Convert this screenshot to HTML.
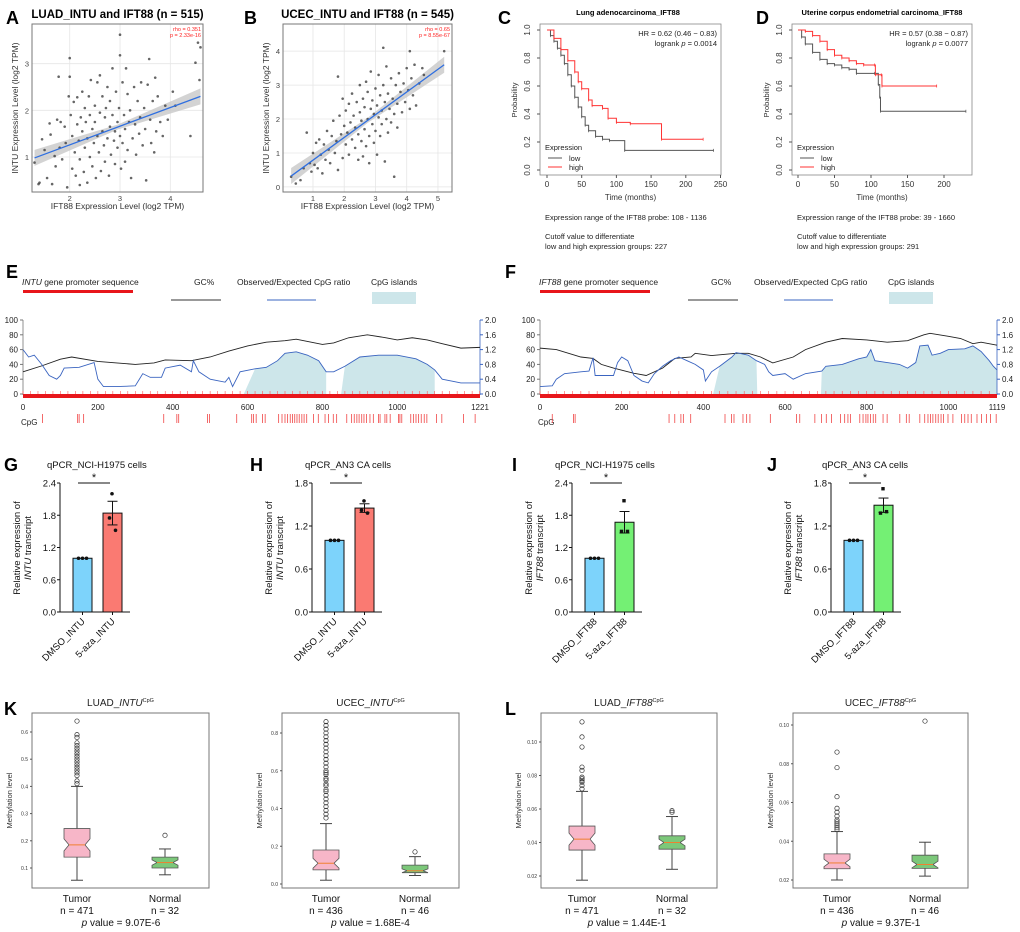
<!DOCTYPE html>
<html><head><meta charset="utf-8"><title>INTU / IFT88 figure</title>
<style>
html,body{margin:0;padding:0;background:#fff;}
svg{display:block;font-family:"Liberation Sans",sans-serif;}
.lbl{font-weight:bold;font-size:18px;fill:#000;}
</style></head>
<body>
<svg id="fig" width="1020" height="932" viewBox="0 0 1020 932" xmlns="http://www.w3.org/2000/svg">
<text class="lbl" x="6" y="24">A</text>
<text class="lbl" x="244" y="24">B</text>
<text class="lbl" x="498" y="24">C</text>
<text class="lbl" x="756" y="24">D</text>
<text class="lbl" x="6" y="278">E</text>
<text class="lbl" x="505" y="278">F</text>
<text class="lbl" x="4" y="471">G</text>
<text class="lbl" x="250" y="471">H</text>
<text class="lbl" x="512" y="471">I</text>
<text class="lbl" x="767" y="471">J</text>
<text class="lbl" x="4" y="715">K</text>
<text class="lbl" x="505" y="715">L</text>
<g id="root"></g>
</svg>
<script>
// ---------- DATA ----------
const scatterAx = [1.3,1.4,1.38,1.45,1.5,1.55,1.6,1.62,1.65,1.7,1.72,1.75,1.78,1.8,1.82,1.85,1.9,1.92,1.95,1.98,2.0,2.0,2.02,2.05,2.05,2.08,2.1,2.12,2.15,2.15,2.18,2.2,2.2,2.22,2.25,2.25,2.28,2.3,2.3,2.32,2.35,2.35,2.38,2.4,2.4,2.42,2.45,2.45,2.48,2.5,2.5,2.52,2.55,2.55,2.58,2.6,2.6,2.62,2.65,2.65,2.68,2.7,2.7,2.72,2.75,2.75,2.78,2.8,2.8,2.82,2.85,2.85,2.88,2.9,2.9,2.92,2.95,2.95,2.98,3.0,3.0,3.0,3.02,3.05,3.05,3.08,3.1,3.1,3.12,3.15,3.15,3.18,3.2,3.22,3.25,3.28,3.3,3.32,3.35,3.38,3.4,3.42,3.45,3.48,3.5,3.52,3.55,3.58,3.6,3.62,3.65,3.68,3.7,3.72,3.75,3.8,3.85,3.9,3.95,4.05,4.1,4.4,4.5,4.55,4.58,4.6];
const scatterAy = [.88,.45,.42,1.38,1.15,.55,1.72,1.48,.42,1.02,.8,1.8,2.72,1.2,1.75,.95,1.65,1.3,.35,2.3,3.12,2.72,1.9,.75,1.45,2.18,1.1,.6,1.7,2.28,1.35,.4,.95,1.85,2.4,1.55,.68,1.2,2.05,1.75,.45,1.4,2.3,1.0,1.9,2.65,1.6,.8,1.3,2.1,1.75,.55,1.45,2.6,1.1,1.95,2.75,.7,1.55,2.3,1.25,1.85,.9,2.05,1.4,2.5,.6,1.65,2.2,1.05,1.9,2.9,1.35,.85,1.55,2.4,1.2,1.75,2.05,3.62,3.18,1.45,.75,2.6,1.3,1.9,.9,1.6,2.9,2.35,1.15,1.75,2.0,.55,1.4,2.5,1.7,1.05,2.2,1.5,1.85,2.6,1.25,2.05,1.6,.5,2.55,3.1,1.8,1.3,2.2,1.1,2.7,1.55,2.3,1.75,1.45,2.1,1.8,2.4,2.1,1.45,3.02,3.45,2.65,3.35];
const fitA = [[1.3,0.98],[4.6,2.3]];
const scatterBx = [.3,.45,.6,.7,.8,.9,.95,1.0,1.05,1.1,1.15,1.2,1.25,1.3,1.35,1.4,1.45,1.5,1.55,1.6,1.65,1.7,1.75,1.8,1.8,1.85,1.9,1.95,1.95,2.0,2.05,2.05,2.1,2.15,2.15,2.2,2.25,2.25,2.3,2.35,2.35,2.4,2.45,2.45,2.5,2.5,2.55,2.55,2.6,2.6,2.65,2.65,2.7,2.7,2.75,2.75,2.8,2.8,2.85,2.85,2.9,2.9,2.95,2.95,3.0,3.0,3.05,3.05,3.1,3.1,3.15,3.15,3.2,3.2,3.25,3.25,3.3,3.3,3.35,3.35,3.4,3.4,3.45,3.5,3.5,3.55,3.6,3.6,3.65,3.7,3.7,3.75,3.8,3.85,3.9,3.95,4.0,4.05,4.1,4.1,4.15,4.2,4.25,4.3,4.4,4.5,4.55,5.2];
const scatterBy = [.3,.1,.2,.55,1.6,.7,.45,1.0,.65,1.3,.55,1.4,.95,.4,1.25,.8,1.65,1.1,.7,1.5,1.95,1.0,1.35,3.25,.5,2.1,1.55,2.6,.85,1.8,1.25,2.25,1.6,.95,2.45,1.9,1.4,2.75,2.1,1.15,1.75,2.5,.8,1.55,2.2,3.0,1.35,1.95,2.6,.9,1.7,2.35,3.1,1.2,2.0,2.8,1.5,.7,2.3,3.4,1.85,2.55,1.3,2.15,2.9,1.65,2.4,.95,2.05,3.3,1.5,2.7,2.25,1.85,4.1,3.0,2.5,.75,2.0,3.55,2.75,1.6,2.3,3.2,1.9,2.6,.3,2.15,3.0,2.45,1.75,3.35,2.8,2.2,3.05,2.5,3.5,2.85,4.0,2.3,3.2,2.7,3.6,2.4,3.05,3.5,3.3,4.0];
const fitB = [[0.3,0.32],[5.2,3.6]];

const kmCLowT = [0,5,10,15,20,25,30,35,40,45,50,55,60,70,80,90,112,240];
const kmCLowS = [1,.96,.92,.87,.82,.76,.68,.6,.52,.45,.38,.32,.28,.24,.22,.21,.14,.14];
const kmCHighT = [0,10,20,30,40,45,50,60,65,80,88,100,120,165,225];
const kmCHighS = [1,.94,.86,.78,.7,.63,.58,.5,.46,.44,.37,.34,.33,.22,.22];
const kmDLowT = [0,5,10,20,30,40,50,60,70,80,105,110,112,113,230];
const kmDLowS = [1,.95,.9,.84,.79,.76,.75,.73,.72,.69,.69,.61,.52,.42,.42];
const kmDHighT = [0,10,20,30,40,50,60,70,80,90,105,106,114,115,190];
const kmDHighS = [1,.99,.96,.92,.86,.82,.8,.78,.76,.75,.75,.68,.68,.6,.6];

const eGcPos = [0,50,100,130,200,250,300,350,380,450,500,550,600,650,700,730,760,800,830,870,920,970,1000,1040,1080,1120,1170,1221];
const eGcVal = [30,38,47,50,44,42,40,42,46,45,50,58,65,70,72,74,71,67,69,76,80,76,73,76,73,68,62,63];
const eRatioPos = [0,15,30,50,70,90,100,110,150,190,200,215,250,300,320,340,370,380,420,450,455,470,500,540,550,560,580,620,650,680,700,730,760,790,810,830,860,900,950,1000,1050,1080,1100,1120,1170,1221];
const eRatioVal = [1.2,1.0,1.05,.8,.5,.4,.5,.7,.72,.85,.4,.2,.2,.22,.55,.45,.45,.7,.78,.6,.9,.6,.4,.32,.45,.2,.6,.68,.72,.9,1.1,1.14,1.05,.9,.6,.6,.75,1.0,1.05,1.05,.95,.8,.65,.4,.3,.3];
const eIslands = [[590,810],[850,1100]];
const eCpG = [52,146,150,162,376,411,416,493,498,571,611,616,623,640,647,683,692,700,707,714,720,726,732,738,745,751,758,776,789,807,816,829,838,865,878,885,892,898,905,911,918,927,936,950,954,967,972,981,1003,1007,1012,1036,1043,1050,1057,1064,1072,1079,1105,1119,1177,1208];

const fGcPos = [0,40,100,130,150,180,230,260,300,330,370,380,420,480,510,540,570,620,650,700,740,800,850,900,940,955,1000,1030,1060,1080,1119];
const fGcVal = [62,60,50,48,40,35,28,25,35,48,50,55,52,55,55,50,42,50,60,70,75,73,70,72,80,82,78,75,68,70,66];
const fRatioPos = [0,30,40,60,100,120,130,135,180,190,200,215,230,250,265,280,300,320,340,360,380,400,405,420,440,470,480,510,530,550,560,570,600,620,650,690,700,740,780,800,810,820,850,880,900,920,930,950,960,980,1000,1040,1060,1080,1100,1110,1119];
const fRatioVal = [.2,.22,.4,.55,.6,.62,.98,.5,.5,.85,1.0,.9,.5,.35,.3,.55,.75,.9,1.0,.9,.8,.65,.35,.6,.75,1.0,1.12,1.05,.9,.8,.6,.5,.55,.4,.55,.62,.75,.8,.95,1.0,1.2,.9,.85,.8,.7,.85,1.3,1.32,1.05,1.1,1.2,1.22,1.3,1.15,.9,.75,.65];
const fIslands = [[424,532],[688,1119]];
const fCpG = [30,82,86,316,330,345,351,369,453,469,475,497,506,514,564,628,636,673,689,701,714,736,746,754,760,783,791,798,803,809,816,822,840,850,881,897,904,930,942,950,956,962,969,975,982,988,999,1011,1032,1040,1048,1056,1070,1081,1093,1103,1117];

const barCats = ['DMSO','5-aza'];
const gMeans = [1.0,1.84]; const gErr = [0,0.22]; const gPts = [[1,1,1],[2.2,1.75,1.52]];
const hMeans = [1.0,1.45]; const hErr = [0,0.06]; const hPts = [[1,1,1],[1.55,1.42,1.38]];
const iMeans = [1.0,1.67]; const iErr = [0,0.2]; const iPts = [[1,1,1],[2.07,1.5,1.5]];
const jMeans = [1.0,1.49]; const jErr = [0,0.1]; const jPts = [[1,1,1],[1.72,1.38,1.40]];

const kLuadTumor = [.055,.14,.185,.245,.40]; const kLuadTumorOut = [.41,.42,.44,.45,.46,.47,.48,.49,.5,.51,.52,.53,.54,.55,.56,.58,.59,.64];
const kLuadNormal = [.075,.10,.12,.14,.17]; const kLuadNormalOut = [.22];
const kUcecTumor = [.02,.075,.11,.18,.32]; const kUcecTumorOut = [.35,.37,.39,.41,.43,.45,.47,.49,.5,.52,.53,.55,.56,.58,.59,.6,.62,.64,.66,.68,.7,.72,.74,.76,.78,.8,.82,.84,.86];
const kUcecNormal = [.045,.06,.07,.10,.145]; const kUcecNormalOut = [.17];
const lLuadTumor = [.0175,.0355,.042,.0498,.0705]; const lLuadTumorOut = [.072,.074,.076,.077,.078,.079,.083,.085,.097,.103,.112];
const lLuadNormal = [.024,.036,.040,.044,.0555]; const lLuadNormalOut = [.058,.059];
const lUcecTumor = [.020,.0258,.0288,.0335,.045]; const lUcecTumorOut = [.046,.047,.048,.049,.05,.051,.053,.055,.057,.063,.078,.086];
const lUcecNormal = [.022,.026,.028,.0328,.0395]; const lUcecNormalOut = [.102];

// ---------- HELPERS ----------
const NS='http://www.w3.org/2000/svg';
const root=document.getElementById('root');
function mk(tag,attrs,parent){const e=document.createElementNS(NS,tag);for(const k in attrs)e.setAttribute(k,attrs[k]);(parent||root).appendChild(e);return e;}
function txt(s,x,y,attrs,parent){const t=mk('text',Object.assign({x:x,y:y},attrs||{}),parent);t.textContent=s;return t;}
function lin(d0,d1,r0,r1){return v=>r0+(v-d0)*(r1-r0)/(d1-d0);}

// ---------- SCATTER ----------
function scatter(cfg){
  const g=mk('g',{});
  
  
  const X=lin(cfg.xd[0],cfg.xd[1],cfg.box[0],cfg.box[2]);
  const Y=lin(cfg.yd[0],cfg.yd[1],cfg.box[3],cfg.box[1]);
  const t=txt(cfg.title,(cfg.box[0]+cfg.box[2])/2,18,{'text-anchor':'middle','font-size':'11.5','font-weight':'bold'},g);
  
  
  cfg.xt.forEach(v=>{mk('line',{x1:X(v),x2:X(v),y1:cfg.box[1],y2:cfg.box[3],stroke:'#e6e6e6','stroke-width':0.8},g);
    txt(String(v),X(v),cfg.box[3]+9,{'text-anchor':'middle','font-size':'7.5',fill:'#444'},g);});
  cfg.yt.forEach(v=>{mk('line',{x1:cfg.box[0],x2:cfg.box[2],y1:Y(v),y2:Y(v),stroke:'#e6e6e6','stroke-width':0.8},g);
    txt(String(v),cfg.box[0]-3,Y(v)+3,{'text-anchor':'end','font-size':'7.5',fill:'#444'},g);});
  const f=cfg.fit, xa=f[0][0], xb=f[1][0];
  const band=mk('polygon',{points:[[X(xa),Y(f[0][1])-8],[X((xa+xb)/2),Y((f[0][1]+f[1][1])/2)-2.5],[X(xb),Y(f[1][1])-8],[X(xb),Y(f[1][1])+8],[X((xa+xb)/2),Y((f[0][1]+f[1][1])/2)+2.5],[X(xa),Y(f[0][1])+8]].map(p=>p.join(',')).join(' '),fill:'#c8c8c8',opacity:0.8},g);
  
  
  for(let i=0;i<cfg.xs.length;i++){
    const c=mk('circle',{cx:X(cfg.xs[i]),cy:Y(cfg.ys[i]),r:1.3,fill:'#333','fill-opacity':0.75},g);
    
    
  }
  const l=mk('line',{x1:X(xa),y1:Y(f[0][1]),x2:X(xb),y2:Y(f[1][1]),stroke:'#2f6fe0','stroke-width':1.3},g);
  
  
  mk('rect',{x:cfg.box[0],y:cfg.box[1],width:cfg.box[2]-cfg.box[0],height:cfg.box[3]-cfg.box[1],fill:'none',stroke:'#777','stroke-width':1},g);
  txt(cfg.rho,cfg.box[2]-2,31,{'text-anchor':'end','font-size':'5.5',fill:'#f22'},g);
  txt(cfg.p,cfg.box[2]-2,37,{'text-anchor':'end','font-size':'5.5',fill:'#f22'},g);
  const xl=txt('IFT88 Expression Level (log2 TPM)',(cfg.box[0]+cfg.box[2])/2,209,{'text-anchor':'middle','font-size':'8.5',fill:'#333'},g);
  
  
  const yx=cfg.box[0]-14, yy=(cfg.box[1]+cfg.box[3])/2;
  const yl=txt('INTU Expression Level (log2 TPM)',yx,yy,{'text-anchor':'middle','font-size':'8.5',fill:'#333',transform:`rotate(-90 ${yx} ${yy})`},g);
  
  
}
scatter({name:'scatter-luad',title:'LUAD_INTU and IFT88 (n = 515)',box:[32,24,203,192],xd:[1.25,4.65],yd:[0.25,3.85],xt:[2,3,4],yt:[1,2,3],xs:scatterAx,ys:scatterAy,fit:fitA,rho:'rho = 0.351',p:'p = 2.33e-16'});
scatter({name:'scatter-ucec',title:'UCEC_INTU and IFT88 (n = 545)',box:[283,24,452,192],xd:[0.04,5.45],yd:[-0.15,4.8],xt:[1,2,3,4,5],yt:[0,1,2,3,4],xs:scatterBx,ys:scatterBy,fit:fitB,rho:'rho = 0.65',p:'p = 8.55e-67'});

// ---------- KM ----------
function km(cfg){
  const g=mk('g',{});
  
  
  const X=lin(0,cfg.xmax,cfg.x0,cfg.x0+cfg.xmax*cfg.xs);
  const Y=lin(0,1,170,30);
  txt(cfg.title,cfg.tx,15,{'text-anchor':'middle','font-size':'7.5','font-weight':'bold'},g);
  mk('rect',{x:cfg.box[0],y:24,width:cfg.box[1]-cfg.box[0],height:151,fill:'none',stroke:'#888','stroke-width':0.8},g);
  cfg.xt.forEach(v=>{mk('line',{x1:X(v),x2:X(v),y1:175,y2:178,stroke:'#555'},g);txt(String(v),X(v),187,{'text-anchor':'middle','font-size':'8',fill:'#333'},g);});
  [0,0.2,0.4,0.6,0.8,1.0].forEach(v=>{const yy=Y(v);mk('line',{x1:cfg.box[0],x2:cfg.box[0]-3,y1:yy,y2:yy,stroke:'#555'},g);
    txt(v.toFixed(1),cfg.box[0]-10,yy,{'text-anchor':'middle','font-size':'8',fill:'#333',transform:`rotate(-90 ${cfg.box[0]-10} ${yy})`},g);});
  txt('Time (months)',(cfg.box[0]+cfg.box[1])/2,200,{'text-anchor':'middle','font-size':'8',fill:'#333'},g);
  const yx=cfg.box[0]-23;
  txt('Probability',yx,100,{'text-anchor':'middle','font-size':'7.5',fill:'#333',transform:`rotate(-90 ${yx} 100)`},g);
  function step(T,S,col,nm){
    let d=`M${X(T[0])},${Y(S[0])}`;
    for(let i=1;i<T.length;i++){d+=` H${X(T[i])} V${Y(S[i])}`;}
    const p=mk('path',{d:d,fill:'none',stroke:col,'stroke-width':1},g);
    
    
    for(let i=1;i<T.length;i++){const xx=X(T[i]),yy=Y(S[i]);mk('line',{x1:xx,x2:xx,y1:yy-1.5,y2:yy+1.5,stroke:col,'stroke-width':0.7},g);}
  }
  step(cfg.lowT,cfg.lowS,'#555','km-low-curve');
  step(cfg.highT,cfg.highS,'#f33','km-high-curve');
  txt(cfg.hr,cfg.box[1]-4,36,{'text-anchor':'end','font-size':'7.5',fill:'#222'},g);
  const lp=txt('',cfg.box[1]-4,46,{'text-anchor':'end','font-size':'7.5',fill:'#222'},g);
  lp.innerHTML='logrank <tspan font-style="italic">p</tspan> = '+cfg.lp;
  const lg=mk('g',{},g);
  
  
  txt('Expression',cfg.box[0]+5,150,{'font-size':'7.5',fill:'#222'},lg);
  mk('line',{x1:cfg.box[0]+8,x2:cfg.box[0]+22,y1:158,y2:158,stroke:'#555'},lg);
  txt('low',cfg.box[0]+29,161,{'font-size':'7.5',fill:'#222'},lg);
  mk('line',{x1:cfg.box[0]+8,x2:cfg.box[0]+22,y1:167,y2:167,stroke:'#f33'},lg);
  txt('high',cfg.box[0]+29,170,{'font-size':'7.5',fill:'#222'},lg);
  txt(cfg.range,cfg.box[0]+5,220,{'font-size':'7.5',fill:'#222'},g);
  txt('Cutoff value to differentiate',cfg.box[0]+5,239,{'font-size':'7.5',fill:'#222'},g);
  txt(cfg.cut,cfg.box[0]+5,249,{'font-size':'7.5',fill:'#222'},g);
}
km({name:'km-luad',title:'Lung adenocarcinoma_IFT88',tx:628,box:[540,721],x0:547,xmax:250,xs:0.694,xt:[0,50,100,150,200,250],lowT:kmCLowT,lowS:kmCLowS,highT:kmCHighT,highS:kmCHighS,hr:'HR = 0.62 (0.46 − 0.83)',lp:'0.0014',range:'Expression range of the IFT88 probe: 108 - 1136',cut:'low and high expression groups: 227'});
km({name:'km-ucec',title:'Uterine corpus endometrial carcinoma_IFT88',tx:882,box:[792,972],x0:798,xmax:230,xs:0.73,xt:[0,50,100,150,200],lowT:kmDLowT,lowS:kmDLowS,highT:kmDHighT,highS:kmDHighS,hr:'HR = 0.57 (0.38 − 0.87)',lp:'0.0077',range:'Expression range of the IFT88 probe: 39 - 1660',cut:'low and high expression groups: 291'});

// ---------- CpG ----------
function cpg(cfg){
  const g=mk('g',{});
  
  
  const x0=cfg.x0,x1=cfg.x1,X=lin(0,cfg.len,x0,x1),Y=lin(0,100,394,320),YR=lin(0,2,394,320);
  const lg=mk('g',{},g);
  
  
  const t=txt('',x0-1,285,{'font-size':'8.5',fill:'#222'},lg);
  t.innerHTML='<tspan font-style="italic">'+cfg.gene+'</tspan> gene promoter sequence';
  mk('rect',{x:x0,y:290,width:110,height:3,fill:'#e8161b'},lg);
  txt('GC%',x0+171,285,{'font-size':'8.5',fill:'#222'},lg);
  mk('line',{x1:x0+148,x2:x0+198,y1:300,y2:300,stroke:'#333','stroke-width':1},lg);
  txt('Observed/Expected CpG ratio',x0+214,285,{'font-size':'8.5',fill:'#222'},lg);
  mk('line',{x1:x0+244,x2:x0+293,y1:300,y2:300,stroke:'#3a64c0','stroke-width':1},lg);
  txt('CpG islands',x0+348,285,{'font-size':'8.5',fill:'#222'},lg);
  mk('rect',{x:x0+349,y:292,width:44,height:12,fill:'#cde6ea'},lg);
  cfg.islands.forEach(r=>{const pts=[];
    for(let i=0;i<cfg.rPos.length;i++){if(cfg.rPos[i]>=r[0]&&cfg.rPos[i]<=r[1])pts.push([X(cfg.rPos[i]),YR(cfg.rVal[i])]);}
    const d='M'+X(r[0])+',394 L'+pts.map(p=>p.join(',')).join(' L')+' L'+X(r[1])+',394 Z';
    const a=mk('path',{d:d,fill:'#cde6ea'},g);
    
    
  });
  mk('line',{x1:x0,x2:x0,y1:320,y2:395,stroke:'#777','stroke-width':0.8},g);
  mk('line',{x1:x1,x2:x1,y1:320,y2:395,stroke:'#3a64c0','stroke-width':0.8},g);
  [0,20,40,60,80,100].forEach(v=>{mk('line',{x1:x0-3,x2:x0,y1:Y(v),y2:Y(v),stroke:'#777'},g);txt(String(v),x0-5,Y(v)+3,{'text-anchor':'end','font-size':'8',fill:'#222'},g);});
  [0,0.4,0.8,1.2,1.6,2.0].forEach(v=>{mk('line',{x1:x1,x2:x1+3,y1:YR(v),y2:YR(v),stroke:'#3a64c0'},g);txt(v.toFixed(1),x1+5,YR(v)+3,{'font-size':'8',fill:'#222'},g);});
  const gc=mk('polyline',{points:cfg.gPos.map((p,i)=>X(p)+','+Y(cfg.gVal[i])).join(' '),fill:'none',stroke:'#222','stroke-width':0.9},g);
  
  
  const rl=mk('polyline',{points:cfg.rPos.map((p,i)=>X(p)+','+YR(cfg.rVal[i])).join(' '),fill:'none',stroke:'#3a64c0','stroke-width':0.9},g);
  
  
  for(let b=0;b<=cfg.len;b+=20){mk('line',{x1:X(b),x2:X(b),y1:391,y2:394,stroke:'#f55','stroke-width':0.6},g);}
  const bar=mk('rect',{x:x0,y:394,width:x1-x0,height:4,fill:'#e8161b'},g);
  
  
  cfg.xt.forEach(v=>txt(String(v),X(v),410,{'text-anchor':'middle','font-size':'8',fill:'#222'},g));
  txt('CpG',x0-2,425,{'font-size':'8',fill:'#222'},g);
  cfg.cpg.forEach(b=>{const m=mk('line',{x1:X(b),x2:X(b),y1:414,y2:423,stroke:'#f04545','stroke-width':0.8},g);
    
    });
}
cpg({name:'cpg-intu',gene:'INTU',x0:23,x1:480,len:1221,xt:[0,200,400,600,800,1000,1221],islands:eIslands,gPos:eGcPos,gVal:eGcVal,rPos:eRatioPos,rVal:eRatioVal,cpg:eCpG});
cpg({name:'cpg-ift88',gene:'IFT88',x0:540,x1:997,len:1119,xt:[0,200,400,600,800,1000,1119],islands:fIslands,gPos:fGcPos,gVal:fGcVal,rPos:fRatioPos,rVal:fRatioVal,cpg:fCpG});

// ---------- qPCR BARS ----------
function bars(cfg){
  const g=mk('g',{});
  
  
  const ax=cfg.ax,Y=lin(0,cfg.ymax,612,483);
  txt(cfg.title,cfg.tx,468,{'font-size':'9.5',fill:'#111'},g);
  mk('line',{x1:ax,x2:ax,y1:483,y2:612,stroke:'#111','stroke-width':1},g);
  mk('line',{x1:ax,x2:ax+70,y1:612,y2:612,stroke:'#111','stroke-width':1},g);
  for(let v=0;v<=cfg.ymax+1e-9;v+=0.6){const yy=Y(v);mk('line',{x1:ax-3,x2:ax,y1:yy,y2:yy,stroke:'#111'},g);txt(v.toFixed(1),ax-4,yy+3.5,{'text-anchor':'end','font-size':'9.5',fill:'#111'},g);}
  const yx=ax-40,yy=548;
  const yl=txt('',yx,yy,{'text-anchor':'middle','font-size':'9.5',fill:'#111',transform:`rotate(-90 ${yx} ${yy})`},g);
  yl.innerHTML='<tspan x="'+yx+'" dy="0">Relative expression of</tspan><tspan x="'+yx+'" dy="11"><tspan font-style="italic">'+cfg.gene+'</tspan> transcript</tspan>';
  
  
  const cols=['#7dd3fb',cfg.col];
  cfg.means.forEach((m,i)=>{const bx=ax+13+i*30;
    const r=mk('rect',{x:bx,y:Y(m),width:19,height:612-Y(m),fill:cols[i],stroke:'#111','stroke-width':1},g);
    
    
    const cx=bx+9.5;
    mk('line',{x1:cx,x2:cx,y1:612,y2:615,stroke:'#111'},g);
    if(cfg.err[i]>0){mk('line',{x1:cx,x2:cx,y1:Y(m-cfg.err[i]),y2:Y(m+cfg.err[i]),stroke:'#111'},g);
      mk('line',{x1:cx-5,x2:cx+5,y1:Y(m+cfg.err[i]),y2:Y(m+cfg.err[i]),stroke:'#111'},g);
      mk('line',{x1:cx-5,x2:cx+5,y1:Y(m-cfg.err[i]),y2:Y(m-cfg.err[i]),stroke:'#111'},g);}
    cfg.pts[i].forEach((p,j)=>{const px=cx+(i===0?(j-1)*4:[-0.5,-3,3][j]);
      const d=cfg.sq&&i===1?mk('rect',{x:px-1.7,y:Y(p)-1.7,width:3.4,height:3.4,fill:'#111'},g):mk('circle',{cx:px,cy:Y(p),r:1.8,fill:'#111'},g);
      
      });
    const lx=cx+3,ly=622;
    txt(barCats[i]+'_'+cfg.gene,lx,ly,{'text-anchor':'end','font-size':'9.5',fill:'#111',transform:`rotate(-45 ${lx} ${ly})`},g);
  });
  mk('line',{x1:ax+18,x2:ax+50,y1:483,y2:483,stroke:'#111','stroke-width':1},g);
  txt('*',ax+34,481,{'text-anchor':'middle','font-size':'11',fill:'#111'},g);
}
bars({name:'qpcr-h1975-intu',title:'qPCR_NCI-H1975 cells',tx:47,ax:60,ymax:2.4,gene:'INTU',col:'#fa7a72',means:gMeans,err:gErr,pts:gPts});
bars({name:'qpcr-an3ca-intu',title:'qPCR_AN3 CA cells',tx:305,ax:312,ymax:1.8,gene:'INTU',col:'#fa7a72',means:hMeans,err:hErr,pts:hPts});
bars({name:'qpcr-h1975-ift88',title:'qPCR_NCI-H1975 cells',tx:555,ax:572,ymax:2.4,gene:'IFT88',col:'#74f074',means:iMeans,err:iErr,pts:iPts,sq:true});
bars({name:'qpcr-an3ca-ift88',title:'qPCR_AN3 CA cells',tx:822,ax:831,ymax:1.8,gene:'IFT88',col:'#74f074',means:jMeans,err:jErr,pts:jPts,sq:true});

// ---------- BOXPLOTS ----------
function boxp(cfg){
  const g=mk('g',{});
  
  
  const b=cfg.box,Y=lin(cfg.yv[0],cfg.yv[1],cfg.yp[0],cfg.yp[1]);
  const t=txt('',(b[0]+b[2])/2,706,{'text-anchor':'middle','font-size':'10',fill:'#222'},g);
  t.innerHTML=cfg.cancer+'_<tspan font-style="italic">'+cfg.gene+'</tspan><tspan font-size="5.5" dy="-4">CpG</tspan>';
  mk('rect',{x:b[0],y:b[1],width:b[2]-b[0],height:b[3]-b[1],fill:'none',stroke:'#777','stroke-width':1},g);
  cfg.yt.forEach(v=>{const yy=Y(v);mk('line',{x1:b[0]-2,x2:b[0],y1:yy,y2:yy,stroke:'#555'},g);txt(v.toFixed(cfg.dec),b[0]-4,yy+2,{'text-anchor':'end','font-size':'5',fill:'#333'},g);});
  const yx=b[0]-20,yy=(b[1]+b[3])/2;
  txt('Methylation level',yx,yy,{'text-anchor':'middle','font-size':'7.5',fill:'#333',transform:`rotate(-90 ${yx} ${yy})`},g);
  [[cfg.tumor,cfg.tumorOut,'#f7b6c8','tumor'],[cfg.normal,cfg.normalOut,'#7cc87a','normal']].forEach((s,i)=>{
    const st=s[0],cx=cfg.cx[i],w=13,n=5;
    mk('line',{x1:cx,x2:cx,y1:Y(st[0]),y2:Y(st[1]),stroke:'#444'},g);
    mk('line',{x1:cx,x2:cx,y1:Y(st[3]),y2:Y(st[4]),stroke:'#444'},g);
    mk('line',{x1:cx-6,x2:cx+6,y1:Y(st[0]),y2:Y(st[0]),stroke:'#444'},g);
    mk('line',{x1:cx-6,x2:cx+6,y1:Y(st[4]),y2:Y(st[4]),stroke:'#444'},g);
    const half=Math.min((Y(st[1])-Y(st[3]))/2,12)*0.5;
    const pts=[[cx-w,Y(st[3])],[cx+w,Y(st[3])],[cx+w,Y(st[2])-half],[cx+w-n,Y(st[2])],[cx+w,Y(st[2])+half],[cx+w,Y(st[1])],[cx-w,Y(st[1])],[cx-w,Y(st[2])+half],[cx-w+n,Y(st[2])],[cx-w,Y(st[2])-half]];
    const p=mk('polygon',{points:pts.map(q=>q.join(',')).join(' '),fill:s[2],stroke:'#555','stroke-width':0.8},g);
    
    
    mk('line',{x1:cx-w+n,x2:cx+w-n,y1:Y(st[2]),y2:Y(st[2]),stroke:'#f08030','stroke-width':1},g);
    s[1].forEach(o=>{const c=mk('circle',{cx:cx,cy:Y(o),r:2.2,fill:'none',stroke:'#333','stroke-width':0.7},g);
      
      });
  });
  txt('Tumor',cfg.cx[0],902,{'text-anchor':'middle','font-size':'10',fill:'#111'},g);
  txt('Normal',cfg.cx[1],902,{'text-anchor':'middle','font-size':'10',fill:'#111'},g);
  txt('n = '+cfg.n[0],cfg.cx[0],914,{'text-anchor':'middle','font-size':'10',fill:'#111'},g);
  txt('n = '+cfg.n[1],cfg.cx[1],914,{'text-anchor':'middle','font-size':'10',fill:'#111'},g);
  const pv=txt('',(cfg.cx[0]+cfg.cx[1])/2,926,{'text-anchor':'middle','font-size':'10',fill:'#111'},g);
  pv.innerHTML='<tspan font-style="italic">p</tspan> value = '+cfg.p;
}
boxp({name:'box-luad-intu',cancer:'LUAD',gene:'INTU',box:[32,713,209,888],yv:[0.1,0.6],yp:[868,732],yt:[0.1,0.2,0.3,0.4,0.5,0.6],dec:1,cx:[77,165],tumor:kLuadTumor,tumorOut:kLuadTumorOut,normal:kLuadNormal,normalOut:kLuadNormalOut,n:[471,32],p:'9.07E-6'});
boxp({name:'box-ucec-intu',cancer:'UCEC',gene:'INTU',box:[282,713,459,888],yv:[0,0.8],yp:[884,733],yt:[0,0.2,0.4,0.6,0.8],dec:1,cx:[326,415],tumor:kUcecTumor,tumorOut:kUcecTumorOut,normal:kUcecNormal,normalOut:kUcecNormalOut,n:[436,46],p:'1.68E-4'});
boxp({name:'box-luad-ift88',cancer:'LUAD',gene:'IFT88',box:[541,713,717,888],yv:[0.02,0.10],yp:[876,742],yt:[0.02,0.04,0.06,0.08,0.10],dec:2,cx:[582,672],tumor:lLuadTumor,tumorOut:lLuadTumorOut,normal:lLuadNormal,normalOut:lLuadNormalOut,n:[471,32],p:'1.44E-1'});
boxp({name:'box-ucec-ift88',cancer:'UCEC',gene:'IFT88',box:[793,713,968,888],yv:[0.02,0.10],yp:[880,725],yt:[0.02,0.04,0.06,0.08,0.10],dec:2,cx:[837,925],tumor:lUcecTumor,tumorOut:lUcecTumorOut,normal:lUcecNormal,normalOut:lUcecNormalOut,n:[436,46],p:'9.37E-1'});
</script>
</body></html>
